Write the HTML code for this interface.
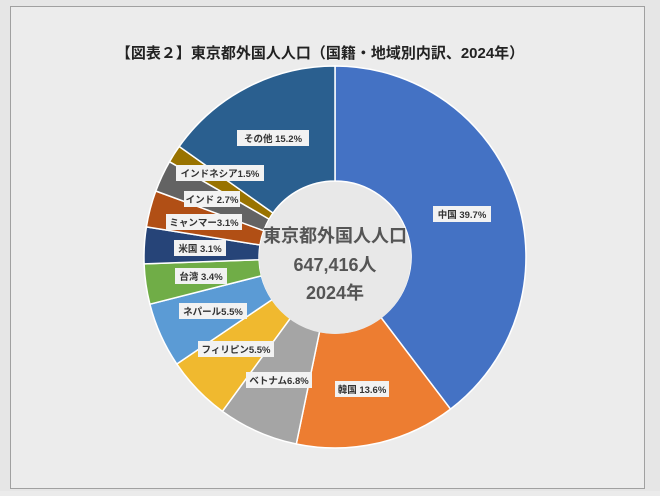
<!DOCTYPE html>
<html><head><meta charset="utf-8"><style>
body{margin:0;width:660px;height:491px;background:#ebebeb;overflow:hidden}
</style></head><body>
<svg width="660" height="491" xmlns="http://www.w3.org/2000/svg" font-family="'Liberation Sans','Noto Sans CJK JP',sans-serif">
<rect x="0" y="0" width="660" height="491" fill="#e6e6e6"/>
<rect x="10.5" y="6.5" width="634" height="482" fill="#ececec" stroke="#a0a0a0" stroke-width="1"/>
<text x="320" y="58" font-size="15" font-weight="bold" fill="#222" text-anchor="middle">【図表２】東京都外国人人口（国籍・地域別内訳、2024年）</text>
<g stroke="#fff" stroke-width="1.5">
<path fill="#4472c4" d="M335,66 A191,191 0 0 1 450.5,409.1 L381.0,317.5 A76,76 0 0 0 335,181Z"/>
<path fill="#ed7d31" d="M450.5,409.1 A191,191 0 0 1 296.3,444.0 L319.6,331.4 A76,76 0 0 0 381.0,317.5Z"/>
<path fill="#a5a5a5" d="M296.3,444.0 A191,191 0 0 1 222.4,411.3 L290.2,318.4 A76,76 0 0 0 319.6,331.4Z"/>
<path fill="#f0b92f" d="M222.4,411.3 A191,191 0 0 1 176.8,364.0 L272.1,299.6 A76,76 0 0 0 290.2,318.4Z"/>
<path fill="#5b9bd5" d="M176.8,364.0 A191,191 0 0 1 149.9,304.2 L261.4,275.8 A76,76 0 0 0 272.1,299.6Z"/>
<path fill="#70ad47" d="M149.9,304.2 A191,191 0 0 1 144.1,263.9 L259.1,259.7 A76,76 0 0 0 261.4,275.8Z"/>
<path fill="#264478" d="M144.1,263.9 A191,191 0 0 1 146.4,226.9 L260.0,245.0 A76,76 0 0 0 259.1,259.7Z"/>
<path fill="#b14f15" d="M146.4,226.9 A191,191 0 0 1 155.8,191.0 L263.7,230.7 A76,76 0 0 0 260.0,245.0Z"/>
<path fill="#636363" d="M155.8,191.0 A191,191 0 0 1 169.5,161.7 L269.1,219.1 A76,76 0 0 0 263.7,230.7Z"/>
<path fill="#997300" d="M169.5,161.7 A191,191 0 0 1 179.2,146.5 L273.0,213.0 A76,76 0 0 0 269.1,219.1Z"/>
<path fill="#2a5f8f" d="M179.2,146.5 A191,191 0 0 1 335,66 L335,181 A76,76 0 0 0 273.0,213.0Z"/>
</g>
<circle cx="335" cy="258" r="76" fill="#e8e8e8"/>
<g font-size="18" font-weight="bold" fill="#555" text-anchor="middle">
<text x="335" y="242">東京都外国人人口</text>
<text x="335" y="271">647,416人</text>
<text x="335" y="299">2024年</text>
</g>
<g fill="#f2f2f2">
<rect x="237" y="130" width="72" height="16"/>
<rect x="176" y="165" width="88" height="16"/>
<rect x="184" y="191" width="56" height="16"/>
<rect x="166" y="214" width="76" height="16"/>
<rect x="174" y="240" width="52" height="16"/>
<rect x="175" y="268" width="52" height="16"/>
<rect x="179" y="303" width="68" height="16"/>
<rect x="198" y="341" width="76" height="16"/>
<rect x="246" y="372" width="66" height="16"/>
<rect x="335" y="381" width="54" height="16"/>
<rect x="433" y="206" width="58" height="16"/>
</g>
<g font-size="9.5" font-weight="bold" fill="#333" text-anchor="middle">
<text x="273" y="142">その他 15.2%</text>
<text x="220" y="177">インドネシア1.5%</text>
<text x="212" y="203">インド 2.7%</text>
<text x="204" y="226">ミャンマー3.1%</text>
<text x="200" y="252">米国 3.1%</text>
<text x="201" y="280">台湾 3.4%</text>
<text x="213" y="315">ネパール5.5%</text>
<text x="236" y="353">フィリピン5.5%</text>
<text x="279" y="384">ベトナム6.8%</text>
<text x="362" y="393">韓国 13.6%</text>
<text x="462" y="218">中国 39.7%</text>
</g>
</svg>
</body></html>
